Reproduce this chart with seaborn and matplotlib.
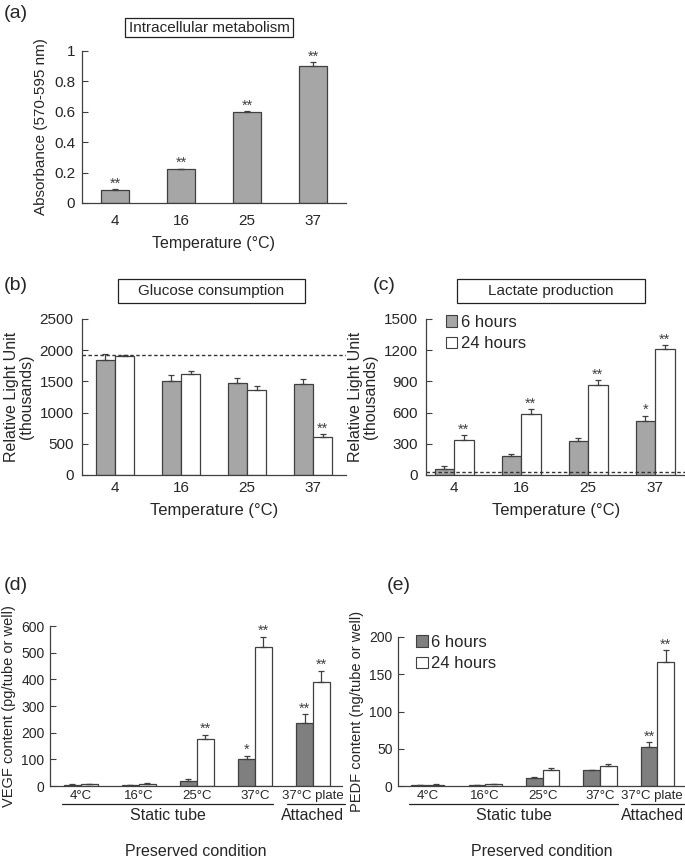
import numpy as np
import pandas as pd
import matplotlib.pyplot as plt
import matplotlib.transforms as mtransforms
from matplotlib.patches import Rectangle, Patch
import seaborn as sns

sns.set_style('white')
plt.rcParams['font.family'] = ['Liberation Sans', 'DejaVu Sans']

W, H = 685, 859

# (a) intracellular metabolism
temps = ['4', '16', '25', '37']
absorb = [0.085, 0.222, 0.598, 0.900]
absorb_err = [0.005, 0.003, 0.005, 0.025]
absorb_sig = ['**', '**', '**', '**']

# (b) glucose consumption
gluc_6h = [1850, 1510, 1480, 1465]
gluc_24h = [1900, 1620, 1370, 605]
gluc_6h_err = [90, 90, 80, 70]
gluc_24h_err = [30, 50, 60, 45]
gluc_6h_sig = ['', '', '', '']
gluc_24h_sig = ['', '', '', '**']
gluc_ctrl = 1930

# (c) lactate production
lact_6h = [60, 185, 330, 520]
lact_24h = [340, 590, 865, 1215]
lact_6h_err = [25, 20, 30, 50]
lact_24h_err = [45, 45, 45, 35]
lact_6h_sig = ['', '', '', '*']
lact_24h_sig = ['**', '**', '**', '**']
lact_ctrl = 30

# (d) VEGF, (e) PEDF
conds = ['4°C', '16°C', '25°C', '37°C', '37°C plate']
vegf_6h = [5, 3, 20, 100, 235]
vegf_24h = [8, 8, 178, 523, 390]
vegf_6h_err = [3, 2, 6, 13, 35]
vegf_24h_err = [1, 2, 15, 37, 42]
vegf_6h_sig = ['', '', '', '*', '**']
vegf_24h_sig = ['', '', '**', '**', '**']

pedf_6h = [1, 1, 11, 21, 52]
pedf_24h = [2, 3, 22, 27, 167]
pedf_6h_err = [0.3, 0.3, 1, 1, 7]
pedf_24h_err = [0.3, 0.3, 2, 2, 15]
pedf_6h_sig = ['', '', '', '', '**']
pedf_24h_sig = ['', '', '', '', '**']

times = ['6 hours', '24 hours']
LIGHT, DARK = '#a6a6a6', '#7f7f7f'
EDGE = '#404040'

fig = plt.figure(figsize=(W / 100, H / 100), dpi=100)


def add_axes(left, top, right, bottom):
    return fig.add_axes([left / W, 1 - bottom / H, (right - left) / W, (bottom - top) / H])


def style(ax, fs=11, pad=4):
    sns.despine(ax=ax)
    for s in ['left', 'bottom']:
        ax.spines[s].set_color(EDGE)
        ax.spines[s].set_linewidth(0.9)
    ax.tick_params(axis='y', direction='in', length=4, width=0.8, color=EDGE,
                   labelsize=fs, pad=pad, left=True)
    ax.tick_params(axis='x', length=0, labelsize=fs)


def add_err(ax, errs, sigs, star_fs=10.5):
    for cont, e_list, s_list in zip(ax.containers, errs, sigs):
        for bar, e, s in zip(cont, e_list, s_list):
            x = bar.get_x() + bar.get_width() / 2
            y = bar.get_height()
            ax.errorbar(x, y, yerr=[[0], [e]], color=EDGE, capsize=2.5,
                        elinewidth=0.9, capthick=0.9)
            if s:
                ax.annotate(s, (x, y + e), xytext=(0, -1), textcoords='offset points',
                            ha='center', va='bottom', fontsize=star_fs, color='#404040')


def paired(ax, cats, s6, s24, grey):
    df = pd.DataFrame({'cond': cats * 2, 'val': s6 + s24,
                       'time': [times[0]] * len(cats) + [times[1]] * len(cats)})
    sns.barplot(data=df, x='cond', y='val', hue='time', palette=[grey, 'white'],
                width=0.58, errorbar=None, edgecolor=EDGE, linewidth=0.9,
                saturation=1, legend=False, ax=ax)


def title_box(text, left, top, right, bottom):
    fig.patches.append(Rectangle((left / W, 1 - bottom / H), (right - left) / W,
                                 (bottom - top) / H, transform=fig.transFigure,
                                 fill=False, edgecolor='#222222', lw=0.9))
    fig.text((left + right) / 2 / W, 1 - (top + bottom) / 2 / H, text,
             ha='center', va='center', fontsize=11)


def legend(ax, grey, anchor):
    handles = [Patch(facecolor=grey, edgecolor=EDGE, lw=0.8),
               Patch(facecolor='white', edgecolor=EDGE, lw=0.8)]
    ax.legend(handles, times, loc='upper left', bbox_to_anchor=anchor, frameon=False,
              fontsize=12, handlelength=0.7, handleheight=0.7, handletextpad=0.2,
              labelspacing=0.4, borderaxespad=0)


# ---- (a)
ax = add_axes(82, 51, 346, 203)
sns.barplot(x=temps, y=absorb, color=LIGHT, width=0.42, errorbar=None,
            edgecolor=EDGE, linewidth=0.9, saturation=1, ax=ax)
add_err(ax, [absorb_err], [absorb_sig])
ax.set_ylim(0, 1)
ax.set_xlim(-0.5, 3.5)
ax.set_yticks([0, 0.2, 0.4, 0.6, 0.8, 1])
ax.set_yticklabels(['0', '0.2', '0.4', '0.6', '0.8', '1'])
style(ax, pad=5)
ax.tick_params(axis='x', pad=8)
ax.set_xlabel('Temperature (°C)', fontsize=11.5)
ax.xaxis.set_label_coords(0.5, -0.22)
ax.set_ylabel('Absorbance (570-595 nm)', fontsize=11)
title_box('Intracellular metabolism', 125, 18, 293, 37)
fig.text(4 / W, 1 - 13 / H, '(a)', fontsize=14, va='center')

# ---- (b)
ax = add_axes(82, 319, 346, 475)
paired(ax, temps, gluc_6h, gluc_24h, LIGHT)
add_err(ax, [gluc_6h_err, gluc_24h_err], [gluc_6h_sig, gluc_24h_sig])
ax.axhline(gluc_ctrl, ls=(0, (2.5, 1.8)), color='#333333', lw=1)
ax.set_ylim(0, 2500)
ax.set_xlim(-0.5, 3.5)
ax.set_yticks(range(0, 2501, 500))
style(ax, pad=6)
ax.tick_params(axis='x', pad=4)
ax.set_xlabel('Temperature (°C)', fontsize=12)
ax.xaxis.set_label_coords(0.5, -0.18)
ax.set_ylabel('Relative Light Unit\n(thousands)', fontsize=11.5, linespacing=1.0)
title_box('Glucose consumption', 118, 279, 305, 303)
fig.text(4 / W, 1 - 285 / H, '(b)', fontsize=14, va='center')

# ---- (c)
ax = add_axes(426, 319, 686, 475)
paired(ax, temps, lact_6h, lact_24h, LIGHT)
add_err(ax, [lact_6h_err, lact_24h_err], [lact_6h_sig, lact_24h_sig])
ax.axhline(lact_ctrl, ls=(0, (2.5, 1.8)), color='#333333', lw=1)
ax.set_ylim(0, 1500)
ax.set_xlim(-0.42, 3.46)
ax.set_yticks(range(0, 1501, 300))
style(ax, pad=6)
ax.tick_params(axis='x', pad=4)
ax.set_xlabel('Temperature (°C)', fontsize=12)
ax.xaxis.set_label_coords(0.5, -0.18)
ax.set_ylabel('Relative Light Unit\n(thousands)', fontsize=11.5, linespacing=1.0)
legend(ax, LIGHT, (0.05, 1.07))
title_box('Lactate production', 457, 279, 645, 303)
fig.text(373 / W, 1 - 285 / H, '(c)', fontsize=14, va='center')


def group_lines(ax, ax_h, attached_x):
    trans = mtransforms.blended_transform_factory(ax.transData, ax.transAxes)
    y_line = -18 / ax_h
    y_txt = -22 / ax_h
    for x0, x1, xc, label in [(-0.33, 3.31, 1.5, 'Static tube'),
                              (3.55, 4.55, attached_x, 'Attached')]:
        ax.plot([x0, x1], [y_line, y_line], color='#222222', lw=0.9,
                transform=trans, clip_on=False)
        ax.text(xc, y_txt, label, transform=trans, ha='center', va='top', fontsize=11.5)


# ---- (d)
ax = add_axes(50, 626, 342, 786)
paired(ax, conds, vegf_6h, vegf_24h, DARK)
add_err(ax, [vegf_6h_err, vegf_24h_err], [vegf_6h_sig, vegf_24h_sig])
ax.set_ylim(0, 600)
ax.set_xlim(-0.53, 4.5)
ax.set_yticks(range(0, 601, 100))
style(ax, fs=10, pad=4)
ax.tick_params(axis='x', pad=3, labelsize=9.5)
ax.set_xlabel('Preserved condition', fontsize=11.5)
ax.xaxis.set_label_coords(0.5, -0.36)
ax.set_ylabel('VEGF content (pg/tube or well)', fontsize=10.5)
group_lines(ax, 160, 4.0)
fig.text(4 / W, 1 - 585 / H, '(d)', fontsize=14, va='center')

# ---- (e)
ax = add_axes(398, 637, 686, 786)
paired(ax, conds, pedf_6h, pedf_24h, DARK)
add_err(ax, [pedf_6h_err, pedf_24h_err], [pedf_6h_sig, pedf_24h_sig])
ax.set_ylim(0, 200)
ax.set_xlim(-0.52, 4.5)
ax.set_yticks(range(0, 201, 50))
style(ax, fs=10, pad=4)
ax.tick_params(axis='x', pad=3, labelsize=9.5)
# nudge the last label so it stays inside the figure
last = ax.get_xticklabels()[-1]
last.set_transform(last.get_transform()
                   + mtransforms.ScaledTranslation(-5 / 100, 0, fig.dpi_scale_trans))
ax.set_xlabel('Preserved condition', fontsize=11.5)
ax.xaxis.set_label_coords(0.5, -0.39)
ax.set_ylabel('PEDF content (ng/tube or well)', fontsize=10.5)
legend(ax, DARK, (0.04, 1.06))
group_lines(ax, 149, 3.92)
fig.text(387 / W, 1 - 585 / H, '(e)', fontsize=14, va='center')

fig.savefig('out.png', dpi=100)
